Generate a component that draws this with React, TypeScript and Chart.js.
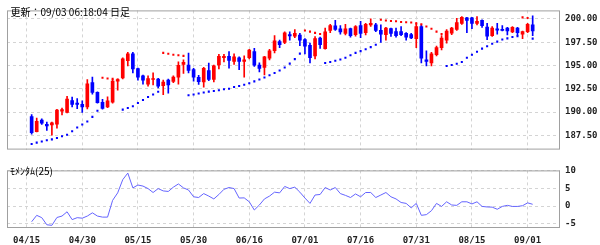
import React, { useEffect, useRef } from "react";
import { Chart, registerables } from "chart.js";
Chart.register(...registerables);

// bar index 0 = 04/15 (no candle drawn)
const tickLabels = ["04/15", "04/30", "05/15", "05/30", "06/16", "07/01", "07/16", "07/31", "08/15", "09/01"];
const tickIndex = [0, 11, 22, 33, 44, 55, 66, 77, 88, 99];
const priceTicks = [187.5, 190, 192.5, 195, 197.5, 200];
const momTicks = [-5, 0, 5, 10];

const opens = [null,
  189.52, 187.89, 189.13, 188.67, 188.61, 188.70, 190.10, 189.97, 191.24, 190.95,
  190.82, 190.56, 193.16, 192.12, 191.05, 190.56, 191.05, 193.32, 193.65, 195.51,
  196.25, 194.66, 193.88, 193.00, 193.49, 193.55, 192.84, 193.42, 193.29, 193.75,
  195.12, 195.05, 194.56, 193.72, 193.23, 194.46, 193.49, 195.05, 195.83, 195.99,
  195.44, 195.83, 195.44, 195.83, 196.48, 195.05, 194.79, 195.77, 196.58, 197.56,
  197.46, 198.31, 198.14, 198.27, 197.78, 197.17, 196.03, 197.95, 196.81, 198.76,
  199.25, 198.92, 198.44, 198.96, 198.31, 199.28, 198.53, 199.35, 199.35, 198.76,
  198.31, 198.96, 198.63, 198.63, 198.44, 198.31, 197.88, 199.18, 195.60, 195.28,
  196.16, 196.91, 197.72, 198.47, 198.86, 199.51, 200.10, 200.10, 199.51, 199.84,
  199.12, 198.21, 198.92, 198.86, 199.02, 198.60, 199.02, 198.37, 198.63, 199.35];
const highs = [null,
  189.74, 189.35, 189.26, 188.93, 188.93, 190.30, 190.43, 191.70, 191.60, 191.44,
  191.21, 193.49, 193.75, 192.18, 191.37, 191.63, 193.49, 193.55, 195.83, 196.42,
  196.42, 194.72, 193.98, 193.88, 194.20, 193.62, 193.42, 193.55, 193.88, 195.38,
  195.60, 196.32, 194.69, 193.94, 194.79, 195.25, 195.05, 196.19, 196.19, 196.48,
  196.25, 195.93, 196.03, 196.74, 196.84, 195.28, 195.99, 196.74, 198.21, 197.72,
  198.60, 198.60, 198.86, 198.44, 197.88, 197.39, 198.11, 198.05, 199.02, 199.41,
  199.84, 199.28, 199.41, 199.02, 199.28, 199.74, 199.51, 200.00, 199.51, 199.35,
  199.09, 199.02, 199.02, 199.18, 198.53, 198.44, 199.61, 199.35, 196.58, 196.42,
  197.07, 198.21, 198.86, 199.09, 200.06, 200.26, 200.16, 200.16, 200.26, 199.90,
  199.51, 199.18, 199.51, 199.28, 199.09, 199.18, 199.09, 198.70, 199.51, 200.32];
const lows = [null,
  187.63, 187.86, 188.67, 188.02, 187.53, 188.28, 189.68, 189.91, 190.56, 190.36,
  189.97, 190.33, 191.92, 190.95, 190.30, 190.46, 190.95, 192.35, 193.55, 194.95,
  194.20, 193.42, 193.00, 192.77, 192.90, 192.58, 191.86, 192.02, 193.16, 193.00,
  194.14, 194.20, 193.32, 192.97, 192.67, 193.36, 193.23, 194.63, 195.38, 194.72,
  195.12, 194.56, 193.75, 195.70, 194.89, 194.30, 193.98, 195.60, 196.35, 196.91,
  197.33, 197.72, 197.98, 197.13, 196.25, 195.28, 195.70, 196.84, 196.74, 198.53,
  198.76, 198.37, 198.27, 198.05, 198.14, 197.98, 198.27, 199.18, 198.63, 197.46,
  197.72, 198.11, 198.05, 198.21, 197.72, 197.88, 196.91, 195.28, 194.95, 194.95,
  196.03, 196.68, 197.39, 198.31, 198.76, 199.41, 198.53, 198.96, 199.35, 199.09,
  197.78, 198.11, 198.37, 198.70, 198.27, 198.53, 198.21, 197.88, 198.53, 198.21];
const closes = [null,
  187.79, 189.00, 188.80, 188.51, 188.83, 190.20, 190.26, 191.40, 190.82, 190.82,
  190.56, 193.03, 192.12, 191.01, 190.40, 191.21, 193.32, 193.49, 195.70, 196.25,
  194.63, 193.75, 193.42, 193.59, 193.59, 192.77, 193.23, 192.90, 193.75, 195.02,
  195.34, 194.46, 193.75, 193.26, 194.69, 193.49, 194.95, 195.99, 195.99, 195.54,
  195.93, 195.44, 195.60, 196.65, 195.02, 194.69, 195.93, 196.58, 197.65, 197.23,
  198.50, 198.17, 198.44, 197.72, 197.07, 195.83, 197.88, 197.23, 198.60, 199.28,
  198.86, 198.60, 198.92, 198.21, 199.18, 198.44, 199.41, 199.51, 198.76, 198.37,
  199.02, 198.44, 198.21, 198.31, 198.05, 197.95, 199.18, 195.77, 195.44, 196.25,
  196.91, 197.95, 198.70, 199.02, 199.61, 200.16, 199.84, 199.51, 199.74, 199.28,
  198.14, 199.02, 198.79, 198.76, 198.70, 199.09, 198.53, 198.63, 199.41, 198.70];

// Parabolic SAR: below price (uptrend) / above price (downtrend)
const sarBelow = [null,
  186.58, 186.72, 186.85, 186.97, 187.07, 187.21, 187.40, 187.56, 187.95, 188.34,
  188.67, 188.99, 189.48, 190.14, null, null, null, null, 190.26, 190.43,
  190.63, 190.97, 191.29, 191.61, 191.88, 192.17, null, null, null, null,
  null, 191.80, 191.89, 191.99, 192.09, 192.19, 192.25, 192.34, 192.44, 192.51,
  192.68, 192.80, 192.93, 193.10, 193.29, 193.49, 193.71, 193.95, 194.20, 194.46,
  194.79, 195.20, 195.68, 196.27, null, null, null, null, 195.27, 195.37,
  195.51, 195.64, 195.83, 196.09, 196.35, 196.54, 196.74, 196.97, 197.23, null,
  null, null, null, null, null, null, null, null, null, null,
  null, null, 194.95, 195.05, 195.18, 195.37, 195.83, 196.15, 196.48, 196.81,
  197.07, 197.32, 197.56, 197.78, 197.91, 198.05, 198.14, null, null, 197.88];
const sarAbove = [null,
  null, null, null, null, null, null, null, null, null, null,
  null, null, null, null, 193.68, 193.61, 193.56, 193.49, null, null,
  null, null, null, null, null, null, 196.35, 196.25, 196.15, 196.09,
  196.03, null, null, null, null, null, null, null, null, null,
  null, null, null, null, null, null, null, null, null, null,
  null, null, null, null, 198.76, 198.63, 198.50, 198.37, null, null,
  null, null, null, null, null, null, null, null, null, 199.90,
  199.83, 199.77, 199.74, 199.67, 199.64, 199.61, 199.51, 199.41, 199.18, 198.93,
  198.63, 198.37, null, null, null, null, null, null, null, null,
  null, null, null, null, null, null, null, 200.16, 200.10, null];

// Momentum (25)
const momentum = [null,
  -4.4, -2.6, -3.25, -5.25, -5.4, -3.2, -2.8, -1.6, -3.8, -3.25,
  -3.4, -2.8, -1.9, -2.8, -3.1, -3.1, 1.6, 3.7, 7.4, 9.25,
  5.1, 5.9, 5.6, 4.9, 3.8, 4.9, 4.25, 4.1, 5.3, 6.2,
  5.1, 4.5, 2.6, 2.4, 3.5, 2.8, 2.0, 3.25, 4.7, 5.2,
  4.9, 2.25, 2.3, 1.2, -1.1, 0.3, 2.0, 2.8, 3.9, 3.7,
  5.5, 4.9, 5.3, 3.9, 2.25, 0.75, 3.1, 3.25, 5.2, 4.5,
  5.2, 3.5, 3.0, 2.4, 3.4, 2.6, 3.8, 3.8, 2.4, 3.1,
  3.8, 2.6, 2.0, 1.0, 0.75, -0.5, 0.75, -2.6, -2.4, -1.3,
  0.75, -0.1, 1.2, 0.3, 0.2, 1.2, 1.2, 0.6, 1.2, -0.1,
  -0.25, -0.3, -0.9, -0.1, 0.2, -0.1, -0.1, 0.1, 0.9, 0.5];

const TITLE = "更新：09/03 06:18:04 日足";
const MOM_LABEL = "ﾓﾒﾝﾀﾑ(25)";

const RED = "#ff0000";
const BLUE = "#0000ff";
const GRID = "#d4d4d4";
const FRAME = "#a0a0a0";
const TICK_FONT = { family: "'DejaVu Sans Mono', monospace", size: 9, weight: "bold" as const };
const X_MIN = -3.87;
const X_MAX = 105.4;

const framePlugin = (label: string, lx: number, ly: number) => ({
  id: "frame" + label.length,
  afterDraw(chart: any) {
    const { ctx, chartArea: a } = chart;
    ctx.save();
    ctx.strokeStyle = FRAME;
    ctx.lineWidth = 1;
    ctx.setLineDash([]);
    ctx.strokeRect(a.left + 0.5, a.top + 0.5, a.right - a.left - 1, a.bottom - a.top - 1);
    ctx.fillStyle = "#000";
    ctx.font = "10px 'Noto Sans CJK JP', sans-serif";
    ctx.textBaseline = "middle";
    ctx.textAlign = "left";
    ctx.fillText(label, lx, ly);
    ctx.restore();
  },
});

function xScale(showLabels: boolean) {
  return {
    type: "linear" as const,
    min: X_MIN,
    max: X_MAX,
    offset: false,
    bounds: "data" as const,
    grid: { color: GRID, drawTicks: false, tickLength: 0, offset: false },
    border: { display: false, dash: [3, 3] },
    ticks: {
      display: showLabels,
      autoSkip: false,
      maxRotation: 0,
      padding: 7,
      font: TICK_FONT,
      color: "#222",
      callback: (_v: any, i: number) => tickLabels[i],
    },
    afterBuildTicks: (s: any) => {
      s.ticks = tickIndex.map((v) => ({ value: v }));
    },
    afterFit: (s: any) => {
      s.height = showLabels ? 17 : 0;
    },
  };
}

export default function App() {
  const topRef = useRef<HTMLCanvasElement>(null);
  const botRef = useRef<HTMLCanvasElement>(null);

  useEffect(() => {
    const wicks: any[] = [];
    const bodies: any[] = [];
    const colors: string[] = [];
    const below: any[] = [];
    const above: any[] = [];
    const mom: any[] = [];
    for (let i = 0; i < opens.length; i++) {
      const o = opens[i], c = closes[i], h = highs[i], l = lows[i];
      if (o != null && c != null && h != null && l != null) {
        wicks.push({ x: i, y: [l, h] });
        bodies.push({ x: i, y: [Math.min(o, c), Math.max(o, c)] });
        colors.push(c >= o ? RED : BLUE);
      }
      if (sarBelow[i] != null) below.push({ x: i, y: sarBelow[i] });
      if (sarAbove[i] != null) above.push({ x: i, y: sarAbove[i] });
      if (momentum[i] != null) mom.push({ x: i, y: momentum[i] });
    }

    const top = new Chart(topRef.current!, {
      type: "bar",
      data: {
        datasets: [
          { type: "bar", data: wicks, backgroundColor: colors, barThickness: 1, grouped: false, order: 3 } as any,
          { type: "bar", data: bodies, backgroundColor: colors, barThickness: 3, grouped: false, minBarLength: 1, order: 2 } as any,
          { type: "scatter", data: below, pointStyle: "rect", pointRadius: 1.45, pointBorderWidth: 0, backgroundColor: BLUE, borderColor: BLUE, order: 1 } as any,
          { type: "scatter", data: above, pointStyle: "rect", pointRadius: 1.45, pointBorderWidth: 0, backgroundColor: RED, borderColor: RED, order: 1 } as any,
        ],
      },
      options: {
        animation: false,
        responsive: false,
        devicePixelRatio: 1,
        events: [],
        layout: { padding: { left: 7, top: 4, right: 0, bottom: 3 } },
        plugins: { legend: { display: false }, tooltip: { enabled: false } },
        scales: {
          x: xScale(false) as any,
          y: {
            position: "right",
            min: 185.97,
            max: 200.91,
            bounds: "data",
            grid: { color: GRID, drawTicks: false, tickLength: 0 },
            border: { display: false, dash: [3, 3] },
            ticks: { padding: 5, font: TICK_FONT, color: "#222", callback: (v: any) => Number(v).toFixed(2) },
            afterBuildTicks: (s: any) => {
              s.ticks = priceTicks.map((v) => ({ value: v }));
            },
            afterFit: (s: any) => {
              s.width = 40;
            },
          } as any,
        },
      },
      plugins: [framePlugin(TITLE, 10.5, 12)],
    });

    const bot = new Chart(botRef.current!, {
      type: "line",
      data: {
        datasets: [
          { data: mom, borderColor: "#6464ff", borderWidth: 1, pointRadius: 0, tension: 0, fill: false } as any,
        ],
      },
      options: {
        animation: false,
        responsive: false,
        devicePixelRatio: 1,
        events: [],
        layout: { padding: { left: 7, top: 3, right: 0, bottom: 0 } },
        plugins: { legend: { display: false }, tooltip: { enabled: false } },
        scales: {
          x: xScale(true) as any,
          y: {
            position: "right",
            min: -6.15,
            max: 10,
            bounds: "data",
            grid: { color: GRID, drawTicks: false, tickLength: 0 },
            border: { display: false, dash: [3, 3] },
            ticks: { padding: 5, font: TICK_FONT, color: "#222", callback: (v: any) => String(v) },
            afterBuildTicks: (s: any) => {
              s.ticks = momTicks.map((v) => ({ value: v }));
            },
            afterFit: (s: any) => {
              s.width = 40;
            },
          } as any,
        },
      },
      plugins: [framePlugin(MOM_LABEL, 10, 11.5)],
    });

    return () => {
      top.destroy();
      bot.destroy();
    };
  }, []);

  return (
    <div style={{ position: "fixed", left: 0, top: 0, width: 600, height: 245, background: "#fff" }}>
      <canvas ref={topRef} width={600} height={160} style={{ position: "absolute", left: 0, top: 0, width: 600, height: 160 }} />
      <canvas ref={botRef} width={600} height={85} style={{ position: "absolute", left: 0, top: 160, width: 600, height: 85 }} />
    </div>
  );
}
